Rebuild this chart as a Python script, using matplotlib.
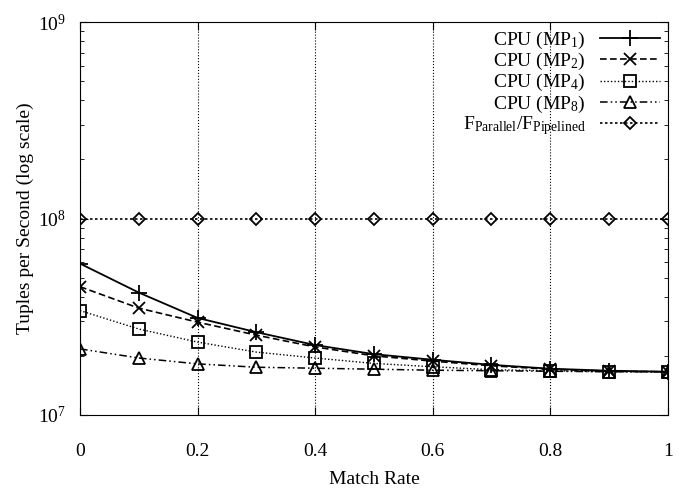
import matplotlib
matplotlib.use('Agg')
import matplotlib.pyplot as plt
from matplotlib.ticker import LogLocator, FixedLocator

plt.rcParams['font.family'] = ['Liberation Serif', 'DejaVu Serif']
plt.rcParams['mathtext.fontset'] = 'custom'
plt.rcParams['mathtext.rm'] = 'Liberation Serif'
plt.rcParams['mathtext.it'] = 'Liberation Serif'
plt.rcParams['font.size'] = 14

match_rate = [0.0, 0.1, 0.2, 0.3, 0.4, 0.5, 0.6, 0.7, 0.8, 0.9, 1.0]
mp1 = [5.9e7, 4.2e7, 3.12e7, 2.64e7, 2.27e7, 2.04e7, 1.91e7, 1.80e7, 1.72e7, 1.68e7, 1.66e7]
mp2 = [4.5e7, 3.5e7, 2.97e7, 2.55e7, 2.22e7, 2.0e7, 1.88e7, 1.78e7, 1.71e7, 1.67e7, 1.66e7]
mp4 = [3.4e7, 2.74e7, 2.35e7, 2.09e7, 1.95e7, 1.83e7, 1.76e7, 1.70e7, 1.68e7, 1.66e7, 1.66e7]
mp8 = [2.17e7, 1.95e7, 1.82e7, 1.75e7, 1.73e7, 1.71e7, 1.69e7, 1.68e7, 1.67e7, 1.66e7, 1.66e7]
fpar = [1e8] * 11

fig = plt.figure(figsize=(6.78, 4.94), dpi=100)
ax = fig.add_axes([0.118, 0.160, 0.867, 0.795])

ax.plot(match_rate, mp1, color='black', lw=1.3, ls='-', marker='+', ms=11, mew=1.3,
        label='CPU (MP$_1$)')
ax.plot(match_rate, mp2, color='black', lw=1.2, ls=(0, (4, 2)), marker='x', ms=9, mew=1.3,
        label='CPU (MP$_2$)')
ax.plot(match_rate, mp4, color='black', lw=1.0, ls=(0, (1, 1.5)), marker='s', ms=9, mew=1.3,
        mfc='none', label='CPU (MP$_4$)')
ax.plot(match_rate, mp8, color='black', lw=1.1, ls=(0, (5, 2, 1, 2, 1, 2)), marker='^', ms=9,
        mew=1.3, mfc='none', label='CPU (MP$_8$)')
ax.plot(match_rate, fpar, color='black', lw=1.2, ls=(0, (1.5, 1.5)), marker='D', ms=6.5,
        mew=1.3, mfc='none', label='F$_{Parallel}$/F$_{Pipelined}$')

ax.set_yscale('log')
ax.set_ylim(1e7, 1e9)
ax.set_xlim(0, 1)
ax.xaxis.set_major_locator(FixedLocator([0, 0.2, 0.4, 0.6, 0.8, 1.0]))
ax.set_xticklabels(['0', '0.2', '0.4', '0.6', '0.8', '1'])
ax.yaxis.set_major_locator(LogLocator(base=10, numticks=5))
ax.yaxis.set_minor_locator(LogLocator(base=10, subs=range(2, 10), numticks=20))
ax.tick_params(which='both', direction='in', top=True, right=True)
ax.tick_params(which='major', length=6)
ax.tick_params(axis='x', which='major', pad=20)
ax.tick_params(axis='y', which='major', pad=10)
ax.tick_params(which='minor', length=3)
ax.grid(axis='x', which='major', color='black', ls=':', lw=0.8)

ax.set_xlabel('Match Rate', labelpad=8)
ax.set_ylabel('Tuples per Second (log scale)', labelpad=3)

ax.legend(loc='upper right', frameon=False, markerfirst=False, handlelength=3.1,
          labelspacing=0.0, borderaxespad=0.1, handletextpad=0.7, borderpad=0.3)

fig.savefig('out.png', dpi=100)
